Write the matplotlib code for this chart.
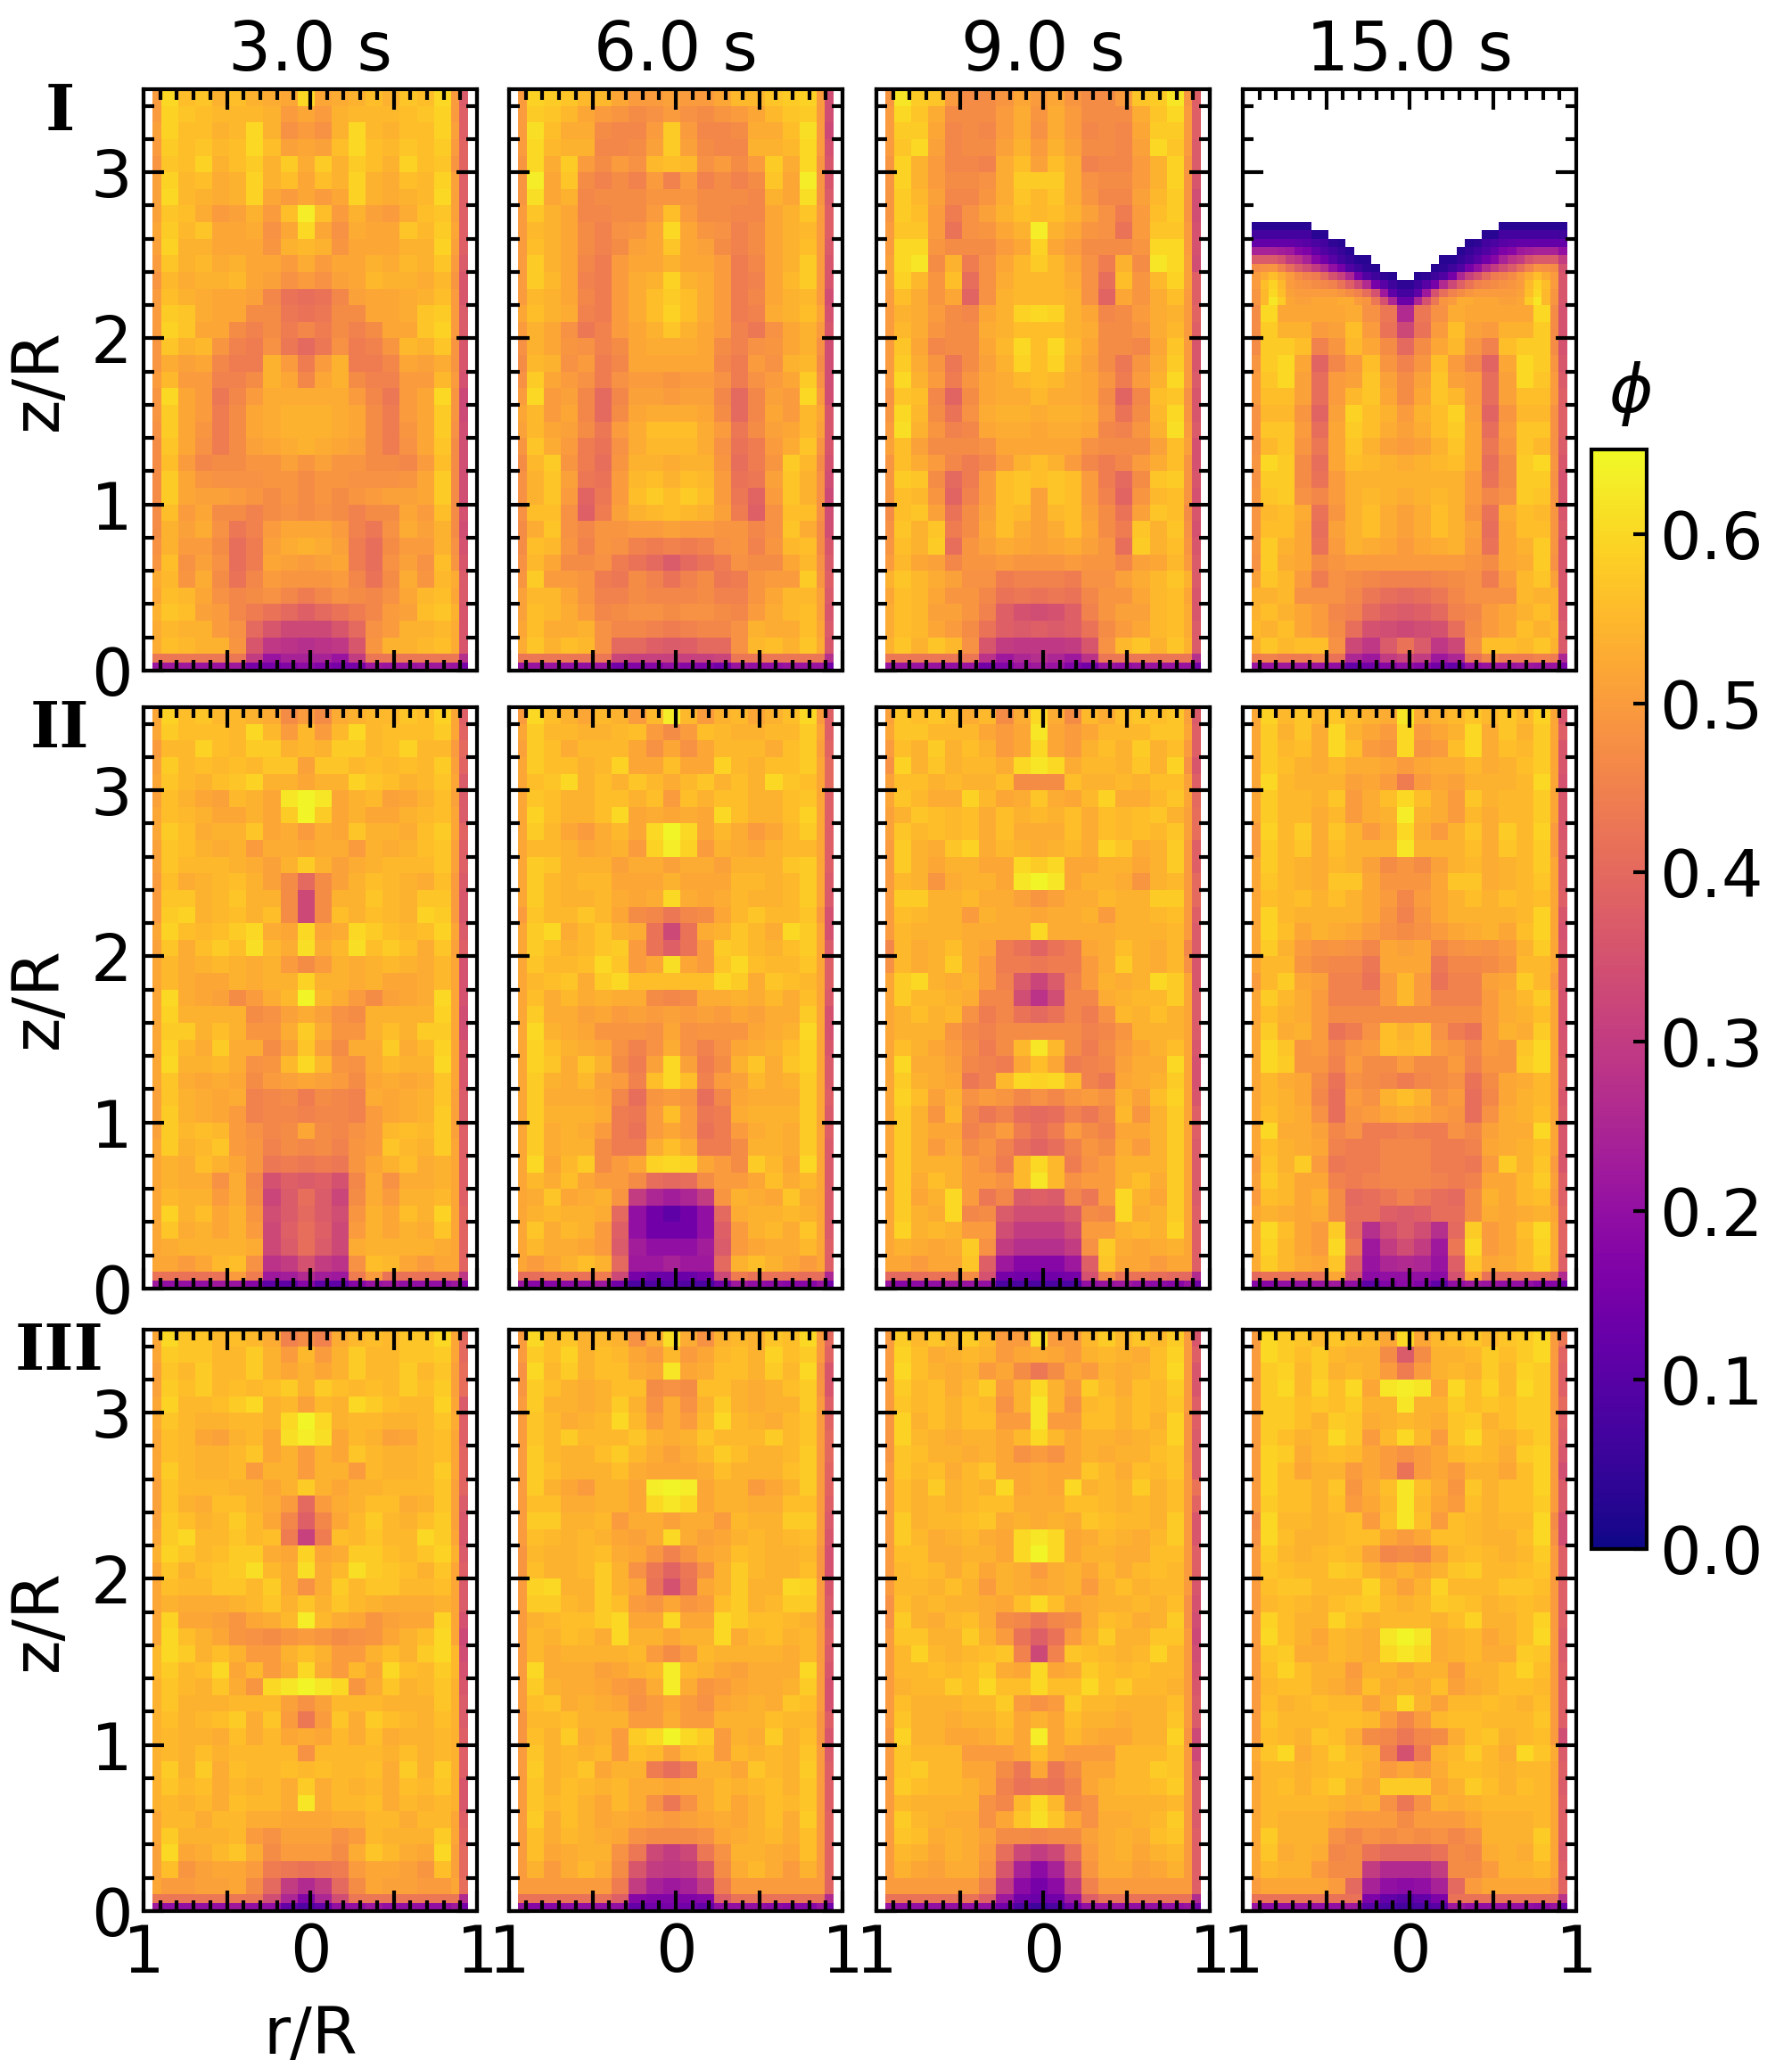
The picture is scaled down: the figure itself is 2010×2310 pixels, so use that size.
import numpy as np
import matplotlib
matplotlib.use('Agg')
import matplotlib.pyplot as plt
from matplotlib.ticker import MultipleLocator, FormatStrFormatter

# phi*100. Rows go from the top of a panel down.
# Columns: the left half from the edge to the axis (cells merged as in cell_counts), then the wall column.
phi_I_3s = [
[50,60,56,57,54,56,54,53,52,60,37],[50,59,57,56,55,55,55,54,50,52,38],[51,59,56,56,54,55,60,54,48,50,38],
[50,58,56,57,55,56,60,56,51,52,39],[49,57,56,59,54,56,58,54,58,53,39],[51,59,55,56,53,54,59,54,56,52,38],
[51,60,55,54,53,54,59,52,50,52,38],[51,57,56,53,50,51,54,50,56,63,38],[52,58,55,57,52,52,53,48,52,60,38],
[51,59,54,54,52,52,52,49,54,55,38],[50,57,54,55,53,54,52,52,50,53,37],[49,55,53,54,54,55,52,51,48,50,36],
[50,56,54,53,52,52,51,46,42,41,36],[50,58,57,53,52,52,47,47,43,42,37],[50,59,57,52,52,47,45,47,44,46,37],
[49,57,54,55,49,45,44,48,43,40,36],[49,53,51,52,46,44,44,54,50,44,36],[50,55,50,50,45,45,47,54,52,46,35],
[49,60,52,50,43,46,50,53,53,53,33],[49,58,52,50,44,47,52,53,54,54,33],[48,58,52,49,44,47,52,53,54,54,34],
[47,57,52,48,44,47,51,52,53,54,34],[47,56,50,46,47,47,49,49,51,49,34],[47,58,52,49,48,48,48,49,49,47,34],
[47,58,52,51,51,50,49,47,49,47,34],[47,56,50,52,47,47,45,47,48,47,35],[47,54,51,53,48,43,45,50,52,52,34],
[48,54,50,50,47,41,44,51,53,54,35],[49,56,48,51,48,41,44,52,51,50,36],[53,55,49,53,47,42,46,50,49,49,37],
[52,56,55,52,48,46,47,48,46,44,37],[54,57,56,51,50,46,44,42,40,38,36],[53,55,54,54,50,48,40,36,33,33,36],
[53,56,55,54,54,49,36,29,28,27,36],[43,43,43,43,43,43,30,21,24,24,27],[21,22,22,21,21,22,15,15,17,19,15]]

phi_I_6s = [
[50,59,58,57,55,55,52,50,50,51,34],[50,58,57,55,52,50,49,47,48,50,34],[50,61,56,53,53,47,46,46,50,58,33],
[50,60,55,54,54,46,46,47,51,58,35],[49,60,53,58,50,47,50,48,55,56,36],[49,63,52,57,47,45,47,45,50,45,36],
[49,61,52,54,46,47,47,47,49,49,37],[50,57,54,52,46,46,47,47,50,56,38],[50,55,54,52,47,45,48,49,52,60,38],
[50,56,54,52,47,45,47,51,52,57,37],[50,58,54,52,46,44,50,52,52,54,36],[50,58,55,52,45,44,50,53,54,59,36],
[50,55,54,52,46,44,50,53,56,58,34],[52,56,54,53,45,44,50,53,56,59,35],[50,54,52,48,43,45,50,52,54,57,36],
[48,54,52,49,48,45,47,52,53,53,34],[47,55,54,48,50,44,46,52,52,52,34],[48,58,52,50,48,44,48,50,50,49,34],
[50,60,50,51,46,40,46,51,51,50,34],[52,55,50,52,46,40,47,52,53,53,36],[51,55,52,51,47,43,50,53,56,56,36],
[49,57,53,50,44,42,48,53,55,55,36],[47,55,58,49,44,41,49,54,54,53,35],[48,54,57,51,43,42,50,55,56,54,34],
[48,54,57,50,39,43,50,56,58,56,33],[48,56,56,48,38,44,51,54,55,56,34],[47,53,57,48,46,49,49,50,50,51,34],
[47,56,55,49,45,49,48,45,44,45,36],[48,55,52,47,47,48,44,42,40,37,37],[49,58,50,50,49,44,43,47,45,42,38],
[51,55,55,52,49,45,45,47,46,46,37],[51,56,55,53,50,46,47,48,48,47,36],[52,56,53,53,54,48,46,46,45,44,37],
[53,57,54,56,55,48,40,40,38,37,36],[43,43,43,43,43,43,32,31,31,31,27],[21,21,21,20,20,21,14,17,18,20,14]]

phi_I_9s = [
[49,62,58,57,50,47,47,49,52,50,38],[50,60,57,53,47,47,47,50,53,49,38],[50,58,58,52,46,47,46,50,53,48,38],
[50,57,60,51,46,47,47,51,54,50,37],[49,59,54,50,46,46,45,53,56,51,37],[49,59,54,50,47,47,48,53,58,58,36],
[49,58,55,51,46,46,49,53,57,55,34],[49,58,56,50,44,48,51,54,56,55,34],[50,57,57,50,42,48,49,52,54,63,35],
[50,60,60,49,47,47,47,50,52,59,35],[51,60,62,47,54,44,48,52,55,58,34],[51,59,55,49,56,41,48,53,55,55,38],
[50,56,53,49,52,39,48,54,55,55,38],[50,54,53,50,47,46,52,54,59,60,39],[50,55,53,49,47,47,53,54,56,56,38],
[50,57,52,46,47,47,52,55,60,56,36],[50,58,53,49,43,47,51,54,59,56,36],[50,60,54,50,44,49,52,53,55,56,37],
[48,57,56,46,39,47,52,53,53,55,36],[49,60,55,47,42,48,53,54,54,53,36],[50,61,54,49,45,46,52,53,53,52,37],
[51,56,51,47,47,47,48,52,52,52,35],[49,56,53,50,46,44,46,50,54,56,35],[49,58,57,47,40,44,50,56,57,56,36],
[49,56,55,49,39,45,50,56,57,51,35],[47,56,57,51,42,47,51,56,55,51,36],[48,57,54,57,44,47,52,56,53,51,35],
[49,56,54,58,41,49,51,53,52,51,36],[50,55,52,51,46,49,49,50,49,49,37],[54,57,55,53,51,48,48,44,45,45,37],
[52,56,55,52,49,49,46,42,43,42,36],[53,56,55,51,51,49,45,38,35,34,36],[53,56,55,52,50,47,42,38,37,38,37],
[54,57,54,57,55,48,36,30,29,29,37],[43,43,43,43,43,43,28,22,25,27,27],[21,21,21,21,20,21,14,17,21,22,15]]

# 15 s: below z = 2.2 only, the free surface is in phi_I_15s_top
phi_I_15s = [
[47,60,52,52,52,52,53,48,43,26,35],[47,58,54,54,50,51,56,50,42,33,35],[47,58,58,56,45,49,55,52,47,40,35],
[49,58,60,52,39,46,50,56,49,45,36],[50,57,60,51,41,50,51,57,51,47,37],[50,56,56,51,41,50,55,57,52,47,38],
[48,55,55,49,39,51,59,56,54,50,38],[48,57,57,50,41,52,58,56,53,51,38],[48,55,57,49,43,52,57,54,51,50,37],
[49,60,58,47,41,52,56,55,54,53,36],[48,58,58,47,42,50,54,54,54,54,35],[49,57,58,48,46,50,54,55,54,53,35],
[49,55,56,53,42,49,54,56,53,51,36],[49,56,56,52,41,51,54,56,53,51,37],[49,58,54,52,42,50,54,53,52,50,36],
[48,58,53,52,47,49,50,50,50,50,36],[51,57,55,50,44,48,47,46,45,45,36],[54,54,55,48,48,48,46,43,41,40,36],
[54,56,54,52,50,46,45,40,38,37,36],[55,54,56,52,50,47,41,35,34,33,37],[54,57,55,56,56,48,33,29,37,42,37],
[44,45,44,44,46,42,25,22,30,32,25],[21,21,22,21,21,20,12,14,18,20,16]]

# single cells, edge to axis, then wall; None is above the surface
phi_I_15s_top = [
[3,3,3,3,3,3,3,None,None,None,None,None,None,None,None,None,None,None,3],
[7,7,7,7,7,7,7,3,3,None,None,None,None,None,None,None,None,None,6],
[12,12,12,12,12,11,10,8,7,4,3,None,None,None,None,None,None,None,12],
[24,24,24,23,22,18,16,12,9,7,5,3,None,None,None,None,None,None,20],
[37,37,37,35,30,28,24,18,14,10,7,5,3,3,None,None,None,None,30],
[47,48,49,45,41,37,34,30,26,20,15,9,6,4,3,None,None,None,35],
[50,53,56,53,50,47,45,44,40,35,31,25,15,9,6,4,3,None,36],
[50,56,59,55,50,49,48,47,46,45,42,38,33,26,15,10,6,4,36],
[49,55,60,56,51,50,50,50,50,50,49,47,45,41,35,22,11,7,36],
[49,55,62,58,52,51,51,52,52,52,53,53,50,49,43,35,25,13,36]]

phi_II_3s = [
[52,59,56,57,55,55,54,53,47,50,38],[52,58,56,56,56,55,60,55,50,55,39],[50,55,55,59,56,55,58,58,54,55,40],
[51,58,55,56,55,56,55,57,57,51,39],[52,57,55,54,56,57,59,54,54,52,37],[51,56,54,52,51,55,54,52,62,64,37],
[52,56,55,54,52,52,54,52,58,64,37],[52,58,56,53,54,54,57,52,53,50,39],[51,57,56,54,53,54,50,53,53,52,38],
[51,57,55,55,55,54,53,51,54,58,38],[50,56,53,54,55,56,54,51,47,40,37],[50,57,57,54,55,57,54,54,47,33,36],
[50,58,59,54,55,56,54,56,47,33,36],[52,59,56,55,56,58,60,53,52,60,37],[51,57,53,56,58,56,61,55,53,61,38],
[52,55,53,54,55,54,53,54,50,47,35],[52,55,53,52,52,54,53,54,54,59,35],[52,60,53,52,51,47,50,53,55,64,35],
[52,59,54,54,54,54,47,48,51,53,34],[52,58,58,54,56,54,49,49,53,58,34],[52,59,55,53,58,53,53,47,51,57,36],
[52,60,54,54,55,53,48,49,55,60,36],[52,57,53,52,53,52,47,50,51,52,36],[51,57,54,53,52,53,45,46,47,44,37],
[51,58,54,53,52,50,45,46,46,45,37],[51,58,55,56,55,50,48,46,47,52,38],[52,58,54,55,57,50,49,45,47,46,38],
[52,54,53,56,54,52,49,43,44,43,38],[52,54,53,53,48,53,46,35,38,37,38],[52,55,54,54,50,53,47,32,37,41,38],
[52,59,54,56,52,54,49,34,37,40,39],[52,57,53,54,52,54,50,33,38,41,39],[52,53,54,54,54,54,53,33,37,41,39],
[52,52,50,52,55,56,48,28,30,35,39],[42,42,42,42,42,50,44,22,23,26,29],[22,20,20,20,22,21,18,11,11,18,18]]

phi_II_6s = [
[50,60,56,54,52,55,54,50,55,63,38],[52,58,55,55,54,54,55,56,50,47,38],[51,58,56,53,55,55,55,52,48,52,39],
[52,58,56,56,54,55,59,52,52,56,40],[52,56,57,60,54,56,54,57,55,53,40],[52,57,56,54,54,56,56,54,56,50,38],
[52,59,56,54,54,56,60,52,53,52,38],[52,58,55,52,50,53,55,52,60,64,38],[52,55,55,54,52,53,54,50,59,63,38],
[52,58,57,54,54,54,51,53,53,51,38],[52,58,55,54,55,55,52,52,52,54,37],[52,58,55,54,54,55,53,52,53,60,37],
[50,57,55,55,57,55,52,47,46,43,35],[52,58,60,53,55,57,54,53,42,33,35],[52,58,56,54,55,57,58,50,42,38,37],
[52,57,55,55,56,60,57,50,52,61,38],[52,55,56,57,53,58,60,56,56,56,38],[52,56,53,55,53,54,53,53,47,46,37],
[52,58,53,53,51,52,50,51,50,51,35],[52,60,54,53,52,49,49,49,48,52,35],[52,59,56,54,53,52,48,45,48,53,36],
[52,59,57,53,57,54,47,44,51,60,37],[52,58,54,53,55,51,50,45,56,60,37],[52,58,53,53,53,52,46,41,49,50,38],
[52,58,54,54,54,53,44,43,50,56,37],[52,58,53,54,53,50,44,42,50,52,38],[52,58,53,54,54,47,44,44,53,56,37],
[52,60,52,55,58,47,50,52,59,60,37],[52,55,53,56,52,50,50,47,41,40,37],[52,53,57,52,53,54,49,30,25,23,37],
[52,54,55,54,54,53,40,20,14,11,37],[52,57,53,55,54,50,38,20,14,14,37],[52,55,53,53,52,50,37,23,20,20,38],
[52,50,52,54,56,54,40,22,22,24,38],[41,41,42,42,42,44,33,15,13,13,25],[21,18,18,19,20,22,14,8,9,10,14]]

phi_II_9s = [
[51,57,56,57,56,53,55,47,53,60,37],[52,57,57,55,55,55,52,50,52,62,38],[50,56,54,58,54,56,54,50,52,60,38],
[48,59,54,57,54,55,55,53,60,62,36],[51,56,56,54,55,54,54,56,47,47,38],[52,57,55,53,53,59,55,52,53,57,40],
[51,54,57,56,55,56,53,56,54,55,41],[51,57,55,56,55,56,53,56,53,53,41],[50,58,54,53,57,59,53,55,54,53,38],
[50,58,54,52,54,54,52,52,60,58,38],[50,55,54,49,53,54,54,52,62,64,40],[50,58,58,54,54,55,53,53,51,49,40],
[50,56,55,54,54,50,54,53,53,52,38],[50,55,54,54,54,53,53,53,53,60,37],[46,55,53,54,56,53,52,44,42,39,37],
[48,55,53,54,58,53,50,44,44,43,36],[52,58,60,54,53,54,50,45,37,32,36],[52,58,55,55,54,53,46,46,34,28,37],
[52,54,56,54,55,48,44,46,42,40,37],[52,54,54,54,49,46,45,47,47,47,37],[52,56,54,52,50,47,44,47,55,62,36],
[52,60,53,53,51,46,45,44,52,56,35],[52,58,54,53,52,43,45,55,60,59,35],[52,59,56,51,54,48,50,49,46,48,36],
[52,58,54,49,55,46,43,45,41,40,38],[52,58,54,52,52,45,47,50,44,41,38],[52,58,54,50,53,47,49,45,41,39,37],
[52,58,54,54,54,50,48,44,55,60,37],[52,58,53,56,54,50,50,48,55,62,37],[52,58,52,54,60,50,43,46,37,38,37],
[52,58,54,53,60,46,47,37,34,34,38],[52,59,54,55,54,50,50,34,30,30,38],[52,54,53,52,53,58,48,30,27,27,38],
[52,52,50,52,52,57,38,22,18,18,38],[40,40,41,42,42,47,35,15,14,14,26],[21,18,19,20,22,21,20,8,8,8,14]]

phi_II_15s = [
[52,59,55,57,55,57,55,54,53,62,36],[52,58,54,57,53,60,54,52,50,60,38],[52,58,55,56,53,60,56,50,49,60,36],
[52,58,56,54,53,55,53,53,52,50,36],[52,60,55,54,54,54,51,52,50,44,35],[52,58,55,55,54,57,50,53,56,60,36],
[52,58,55,55,53,55,50,53,54,63,36],[50,59,55,58,53,57,54,50,53,60,36],[50,58,55,57,53,56,54,54,54,62,37],
[52,58,55,54,53,55,54,51,47,49,37],[52,57,55,54,53,57,57,52,49,49,37],[52,56,55,56,54,56,54,52,50,46,38],
[52,59,55,54,54,54,54,52,49,45,36],[52,59,56,52,54,53,52,50,48,47,35],[52,58,54,50,48,49,48,46,52,51,36],
[52,55,55,49,47,46,46,43,52,52,36],[50,55,58,52,51,45,45,42,50,55,36],[52,58,55,53,50,45,45,45,50,55,35],
[52,56,54,53,50,47,47,47,47,47,35],[52,58,53,54,50,42,44,48,56,54,35],[52,60,57,49,50,46,49,50,56,55,36],
[52,60,58,49,49,45,50,47,47,50,37],[52,55,53,52,47,42,48,47,46,44,37],[52,55,54,52,46,41,50,48,54,56,36],
[52,56,54,53,48,41,49,50,52,53,37],[52,60,53,53,51,46,48,44,44,45,36],[52,56,54,53,52,45,44,44,46,46,36],
[50,57,54,58,50,43,44,44,46,46,36],[51,58,55,52,52,45,44,45,46,46,38],[50,56,55,52,54,47,40,41,43,45,38],
[52,54,53,52,53,47,41,41,38,37,39],[53,60,56,52,50,58,40,27,34,37,39],[53,59,55,52,50,60,43,22,30,34,39],
[53,58,55,53,52,57,38,21,25,26,38],[40,42,42,42,42,52,35,19,20,20,26],[18,18,20,20,21,22,20,11,17,19,14]]

phi_III_3s = [
[52,60,57,57,55,56,55,53,45,47,40],[52,58,57,57,55,55,58,54,50,55,40],[51,57,55,58,55,55,58,54,52,54,41],
[51,58,56,58,55,56,55,56,58,54,41],[52,59,55,55,56,58,60,54,55,51,37],[53,57,55,54,54,55,55,54,60,64,38],
[52,56,55,52,51,54,55,52,61,63,38],[52,56,55,54,54,55,57,52,54,50,39],[52,58,55,54,54,55,50,54,54,50,39],
[51,57,55,55,55,54,54,52,54,58,39],[51,57,54,53,56,56,54,53,50,40,37],[51,58,56,54,55,58,55,52,46,38,36],
[52,58,60,55,55,57,55,56,44,31,36],[54,59,57,55,56,58,58,53,52,59,37],[52,57,54,56,57,58,61,55,53,61,38],
[52,56,55,55,57,57,55,58,53,48,37],[52,54,53,53,53,54,55,57,54,57,37],[52,59,52,52,51,49,52,53,55,63,35],
[52,60,56,54,52,49,48,47,49,50,33],[55,60,58,54,56,54,50,50,54,56,34],[55,58,55,56,60,52,55,50,53,60,35],
[54,57,55,54,57,53,49,60,62,64,36],[54,57,54,54,54,55,55,55,51,48,37],[54,56,54,55,56,58,53,57,50,43,37],
[54,55,54,54,53,56,53,55,52,53,38],[54,55,54,56,54,55,55,55,55,48,38],[54,58,54,58,53,56,55,55,56,55,38],
[54,57,55,56,53,55,54,55,53,58,36],[54,55,54,55,53,56,55,55,53,62,36],[52,55,55,53,55,55,53,53,52,52,38],
[52,58,54,54,54,55,50,48,51,51,39],[51,60,52,53,55,57,53,47,50,50,40],[51,56,49,51,52,52,50,44,43,42,40],
[52,50,50,51,51,52,47,40,30,26,41],[43,43,43,43,43,43,43,34,25,17,26],[22,20,20,20,20,22,20,20,12,9,15]]

phi_III_6s = [
[50,60,56,57,54,55,54,48,53,61,40],[50,58,56,59,54,56,55,52,50,55,39],[48,60,55,58,54,56,56,53,52,62,36],
[49,58,56,54,53,54,56,56,47,48,36],[50,58,54,54,53,54,58,54,48,53,38],[50,57,55,53,54,55,60,55,50,53,39],
[50,57,55,58,55,55,55,57,54,53,40],[50,58,55,54,54,56,58,55,53,51,40],[50,58,56,54,54,54,56,53,52,52,39],
[50,58,54,52,50,54,54,52,63,64,39],[50,56,56,53,53,54,54,52,60,62,38],[50,58,58,54,54,55,50,53,53,51,37],
[50,56,55,54,55,54,52,51,53,60,36],[49,55,54,54,55,56,53,52,49,45,35],[49,56,54,54,55,58,54,48,43,39,35],
[50,59,60,54,54,58,54,52,42,35,36],[50,58,58,55,54,58,56,50,49,52,37],[50,54,55,56,56,58,60,52,52,60,37],
[50,55,54,56,55,53,60,54,54,52,38],[50,55,53,54,54,54,54,55,50,47,37],[50,60,53,53,53,51,52,54,55,63,36],
[50,58,54,53,53,52,50,49,53,63,35],[50,56,57,53,54,53,52,48,50,52,35],[49,55,55,56,54,54,54,50,50,53,38],
[49,56,54,58,53,54,50,58,60,64,36],[50,57,54,55,54,55,50,56,55,51,37],[50,58,54,55,57,52,54,54,44,41,38],
[50,57,54,56,55,54,55,53,53,52,38],[50,57,55,56,54,52,55,53,48,43,38],[50,58,53,56,54,52,53,52,51,50,39],
[50,56,53,55,54,53,52,48,47,47,39],[50,56,52,53,54,54,48,43,33,30,39],[50,54,50,53,55,53,47,36,30,29,39],
[50,50,50,50,50,50,44,30,24,22,39],[42,42,42,42,42,42,38,18,17,17,26],[21,18,18,19,20,20,20,12,14,15,14]]

phi_III_9s = [
[50,58,55,57,55,58,55,50,50,61,36],[50,59,56,53,54,55,54,50,52,53,38],[50,60,56,54,53,54,50,52,47,43,36],
[50,58,55,56,53,55,58,50,54,60,36],[50,57,55,56,54,56,55,48,54,62,38],[49,59,54,56,54,56,56,50,50,62,38],
[49,59,55,54,53,54,54,52,55,60,37],[49,57,56,54,54,53,54,52,48,50,37],[50,57,55,56,53,55,57,52,52,53,37],
[50,56,54,58,54,55,54,60,52,53,42],[50,56,54,55,54,55,56,56,53,53,39],[50,58,54,55,55,56,57,53,54,53,36],
[50,58,55,53,54,55,53,52,60,62,36],[50,56,56,53,53,54,54,52,60,64,38],[50,55,56,55,53,55,52,54,53,50,38],
[50,55,55,54,56,54,50,54,53,52,36],[48,56,54,55,54,54,53,52,56,60,35],[48,58,54,53,55,56,53,47,46,43,34],
[50,57,57,54,54,58,54,50,42,38,33],[50,55,59,55,54,55,56,57,45,33,34],[50,55,55,56,55,56,58,53,52,60,35],
[50,54,55,55,58,56,60,56,56,60,36],[50,56,54,54,54,55,55,58,50,48,37],[50,57,54,54,53,54,54,56,52,54,37],
[49,59,54,54,52,52,53,55,52,63,33],[50,57,55,55,55,50,50,50,52,56,33],[50,57,58,55,55,52,52,47,43,52,36],
[50,58,56,55,55,54,52,45,42,43,37],[50,55,54,54,54,54,48,46,55,60,37],[50,58,55,54,53,53,48,52,57,61,37],
[50,57,56,53,54,53,51,47,47,46,38],[50,55,54,52,54,53,50,41,33,30,38],[50,54,52,51,53,53,49,36,24,19,38],
[50,50,50,50,50,50,45,30,19,15,38],[42,42,42,42,42,42,38,22,14,13,26],[21,20,20,20,20,20,20,14,8,6,15]]

phi_III_15s = [
[50,60,58,57,55,57,56,55,52,60,43],[50,60,58,56,58,55,54,54,47,37,39],[50,58,59,55,58,54,55,54,50,44,38],
[50,58,60,55,59,56,60,52,62,63,38],[50,58,58,56,57,56,58,54,54,62,40],[50,58,58,56,54,58,57,53,54,55,38],
[50,58,56,54,55,60,57,50,55,60,37],[50,59,58,53,55,56,55,52,50,48,36],[50,59,56,52,54,54,50,52,50,42,34],
[50,59,56,56,54,57,49,53,56,62,37],[50,58,56,56,54,56,50,52,55,62,37],[47,60,55,55,54,55,56,50,56,62,34],
[48,60,56,54,54,55,56,56,52,50,34],[50,58,55,54,55,56,55,51,46,47,38],[50,57,56,55,55,58,57,54,52,54,38],
[50,56,57,57,55,55,55,59,54,51,38],[50,55,56,55,54,56,57,58,55,54,38],[50,59,56,54,54,59,56,54,55,55,38],
[50,60,56,54,52,55,54,53,62,64,37],[50,57,58,53,53,55,54,53,60,62,37],[50,56,59,56,54,54,50,54,54,52,38],
[50,55,56,56,54,53,51,56,53,54,38],[50,56,54,55,56,55,55,51,54,60,38],[50,57,55,55,55,56,56,55,50,46,38],
[50,56,55,54,57,56,53,47,46,43,34],[53,57,60,53,55,58,55,54,44,35,37],[52,55,55,54,55,56,56,53,50,52,38],
[52,55,56,54,56,58,54,52,58,58,37],[52,55,55,55,55,54,53,54,48,43,38],[52,55,54,54,54,52,50,50,50,47,38],
[52,58,54,54,54,48,46,48,47,48,38],[52,57,53,54,53,46,47,42,40,40,37],[52,55,54,54,50,47,47,30,26,26,38],
[50,52,52,52,52,50,40,24,20,19,39],[42,42,42,42,42,42,42,16,12,10,28],[21,19,20,20,20,20,22,10,8,7,13]]

panels = [[phi_I_3s, phi_I_6s, phi_I_9s, phi_I_15s],
          [phi_II_3s, phi_II_6s, phi_II_9s, phi_II_15s],
          [phi_III_3s, phi_III_6s, phi_III_9s, phi_III_15s]]
times = ['3.0 s', '6.0 s', '9.0 s', '15.0 s']
row_names = ['I', 'II', 'III']
cell_counts = [1, 2, 2, 2, 2, 2, 2, 2, 2, 1]

W, H = 2010, 2310
VMAX = 0.65
r_edges = np.linspace(-0.9465, 0.9465, 38)


def pixel_box(x0, x1, y0, y1):
    return [x0 / W, 1 - y1 / H, (x1 - x0) / W, (y1 - y0) / H]


def full_rows(rows):
    # rows of merged cells -> 37 cells, right half is the mirror of the left
    out = []
    for row in rows:
        left = np.repeat(row[:10], cell_counts)
        out.append(np.concatenate([left, left[::-1], [row[10]]]))
    return np.array(out, dtype=float) / 100


def draw_mesh(ax, z_edges, values):
    return ax.pcolormesh(r_edges, z_edges, values[::-1], cmap='plasma', vmin=0, vmax=VMAX,
                         antialiased=False, linewidth=0)


plt.rcParams['font.family'] = 'DejaVu Sans'
fig = plt.figure(figsize=(W / 300, H / 300), dpi=300)

lefts = [161, 571, 983, 1394]
tops = [100, 793, 1491]
mesh = None
for i in range(3):
    for j in range(4):
        ax = fig.add_axes(pixel_box(lefts[j], lefts[j] + 374, tops[i], tops[i] + 652))
        rows = panels[i][j]
        if len(rows) == 36:
            z_edges = np.concatenate([[0, 0.05], np.arange(1, 36) / 10])
        else:
            z_edges = np.concatenate([[0, 0.05], np.arange(1, 23) / 10])
        mesh = draw_mesh(ax, z_edges, full_rows(rows))
        if i == 0 and j == 3:
            top = np.array(phi_I_15s_top, dtype=float) / 100
            top_full = np.hstack([top[:, :18], top[:, :18][:, ::-1], top[:, 18:]])
            draw_mesh(ax, np.arange(220, 275, 5) / 100, top_full)
        ax.set_xlim(-1, 1)
        ax.set_ylim(0, 3.5)
        ax.set_xticks([-1, -0.5, 0, 0.5, 1])
        ax.set_yticks([0, 1, 2, 3])
        ax.xaxis.set_minor_locator(MultipleLocator(0.1))
        ax.yaxis.set_minor_locator(MultipleLocator(0.2))
        ax.tick_params(which='both', direction='in', top=True, right=True, width=1)
        ax.tick_params(which='major', length=5.5, labelsize=17.6, pad=3)
        ax.tick_params(which='minor', length=2.8)
        for s in ax.spines.values():
            s.set_linewidth(1)
        if i == 2:
            ax.set_xticklabels(['1', '', '0', '', '1'])
        else:
            ax.set_xticklabels([])
        if j == 0:
            ax.set_ylabel('z/R', fontsize=17.6)
            ax.yaxis.set_label_coords(-0.22, 0.5)
        else:
            ax.set_yticklabels([])
        if i == 0:
            ax.set_title(times[j], fontsize=18.2, pad=5)
        if i == 2 and j == 0:
            ax.set_xlabel('r/R', fontsize=17.6, labelpad=5)
    fig.text(67 / W, 1 - (tops[i] + 26) / H, row_names[i], family='DejaVu Serif', weight='bold',
             fontsize=17, ha='center', va='center')

cax = fig.add_axes(pixel_box(1785, 1847, 504, 1737))
cb = fig.colorbar(mesh, cax=cax, ticks=[0, 0.1, 0.2, 0.3, 0.4, 0.5, 0.6])
cb.ax.tick_params(direction='in', length=3.5, width=1, labelsize=17.6, pad=3.5)
cb.outline.set_linewidth(1)
cb.ax.yaxis.set_major_formatter(FormatStrFormatter('%.1f'))
fig.text(1829 / W, 1 - 442 / H, r'$\phi$', fontsize=18, ha='center', va='center')

fig.savefig('out.png', dpi=300, facecolor='white')
